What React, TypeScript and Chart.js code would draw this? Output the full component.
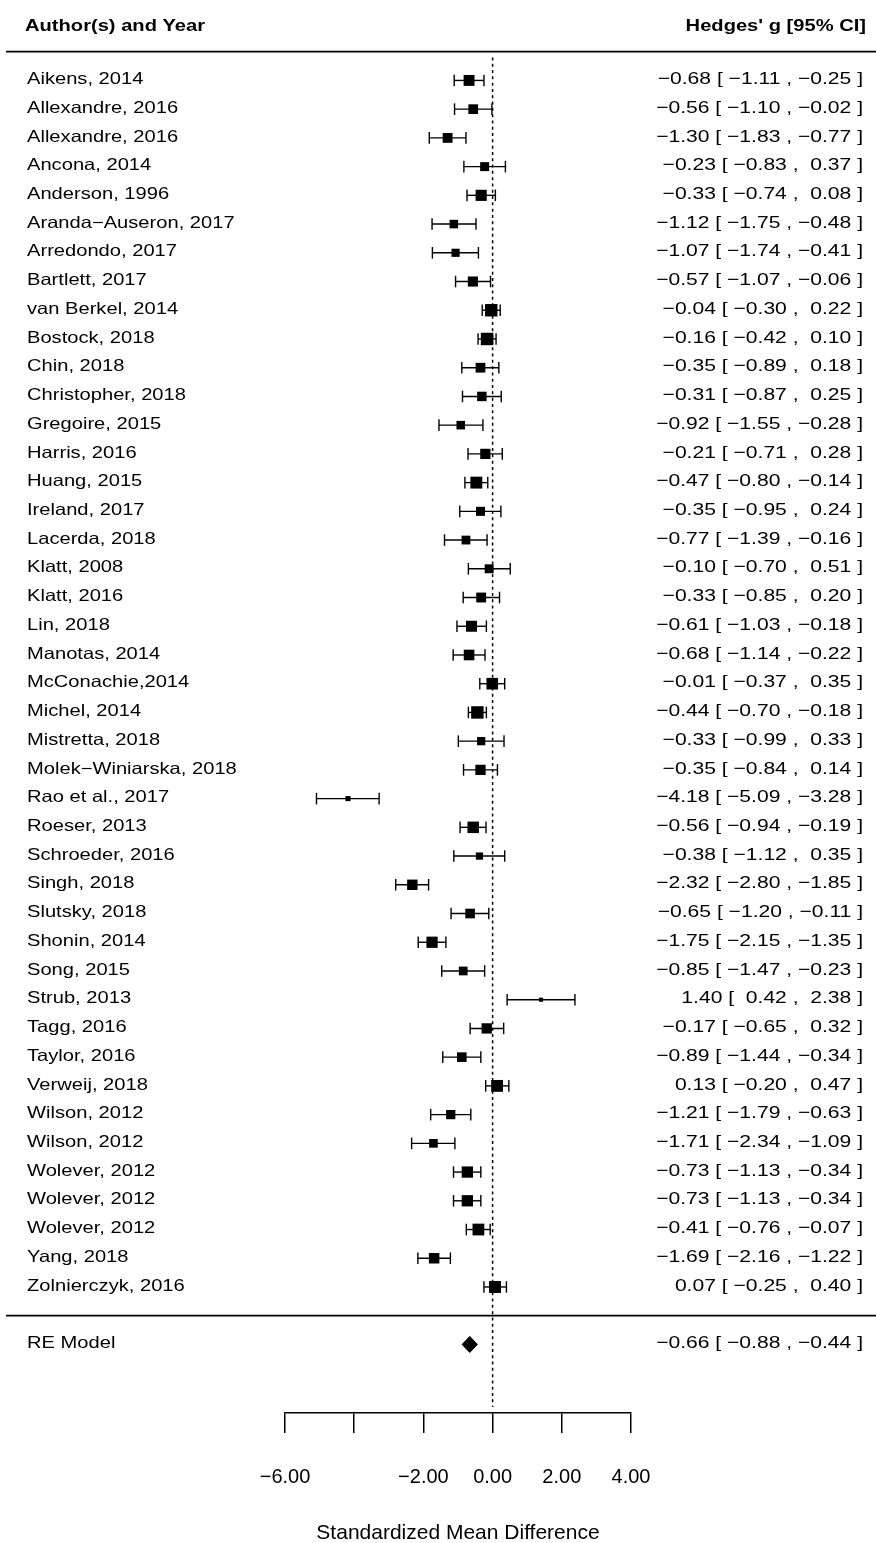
import React, { useEffect, useRef } from 'react';
import { Chart, registerables } from 'chart.js';

Chart.register(...registerables);

const studyLabels = [
  'Aikens, 2014', 'Allexandre, 2016', 'Allexandre, 2016', 'Ancona, 2014', 'Anderson, 1996',
  'Aranda−Auseron, 2017', 'Arredondo, 2017', 'Bartlett, 2017', 'van Berkel, 2014', 'Bostock, 2018',
  'Chin, 2018', 'Christopher, 2018', 'Gregoire, 2015', 'Harris, 2016', 'Huang, 2015',
  'Ireland, 2017', 'Lacerda, 2018', 'Klatt, 2008', 'Klatt, 2016', 'Lin, 2018',
  'Manotas, 2014', 'McConachie,2014', 'Michel, 2014', 'Mistretta, 2018', 'Molek−Winiarska, 2018',
  'Rao et al., 2017', 'Roeser, 2013', 'Schroeder, 2016', 'Singh, 2018', 'Slutsky, 2018',
  'Shonin, 2014', 'Song, 2015', 'Strub, 2013', 'Tagg, 2016', 'Taylor, 2016',
  'Verweij, 2018', 'Wilson, 2012', 'Wilson, 2012', 'Wolever, 2012', 'Wolever, 2012',
  'Wolever, 2012', 'Yang, 2018', 'Zolnierczyk, 2016',
];

const estimates = [
  -0.68, -0.56, -1.30, -0.23, -0.33,
  -1.12, -1.07, -0.57, -0.04, -0.16,
  -0.35, -0.31, -0.92, -0.21, -0.47,
  -0.35, -0.77, -0.10, -0.33, -0.61,
  -0.68, -0.01, -0.44, -0.33, -0.35,
  -4.18, -0.56, -0.38, -2.32, -0.65,
  -1.75, -0.85, 1.40, -0.17, -0.89,
  0.13, -1.21, -1.71, -0.73, -0.73,
  -0.41, -1.69, 0.07,
];

const lowerCI = [
  -1.11, -1.10, -1.83, -0.83, -0.74,
  -1.75, -1.74, -1.07, -0.30, -0.42,
  -0.89, -0.87, -1.55, -0.71, -0.80,
  -0.95, -1.39, -0.70, -0.85, -1.03,
  -1.14, -0.37, -0.70, -0.99, -0.84,
  -5.09, -0.94, -1.12, -2.80, -1.20,
  -2.15, -1.47, 0.42, -0.65, -1.44,
  -0.20, -1.79, -2.34, -1.13, -1.13,
  -0.76, -2.16, -0.25,
];

const upperCI = [
  -0.25, -0.02, -0.77, 0.37, 0.08,
  -0.48, -0.41, -0.06, 0.22, 0.10,
  0.18, 0.25, -0.28, 0.28, -0.14,
  0.24, -0.16, 0.51, 0.20, -0.18,
  -0.22, 0.35, -0.18, 0.33, 0.14,
  -3.28, -0.19, 0.35, -1.85, -0.11,
  -1.35, -0.23, 2.38, 0.32, -0.34,
  0.47, -0.63, -1.09, -0.34, -0.34,
  -0.07, -1.22, 0.40,
];

const summaryLabel = 'RE Model';
const summaryEstimate = -0.66;
const summaryLower = -0.88;
const summaryUpper = -0.44;

const axisTicks = [-6, -4, -2, 0, 2, 4];
const axisTickLabels = ['−6.00', '', '−2.00', '0.00', '2.00', '4.00'];

const headerLeft = 'Author(s) and Year';
const headerRight = "Hedges' g [95% CI]";
const axisTitle = 'Standardized Mean Difference';

// ---- layout / style constants ----
const W = 876;
const H = 1543;
const FAMILY = '"Liberation Sans", Arial, Helvetica, sans-serif';
const ROW_FONT = 16.5;
const ANNOT_FONT = 17;
const TEXT_SX = 1.22;
const ANNOT_SX = 1.24;
const Y_MIN = -3.387;
const Y_MAX = 45.8;
const HEADER_ROW = 44.85;
const REF_TOP = 43.8;
const REF_BOTTOM = -3.18;
const SQUARE_SCALE = 8.3;
const DIAMOND_HALF = 0.28;

const K = studyLabels.length;
const rows = studyLabels.map((_, i) => K - i);
const summaryRow = -1;

// random-effects inverse-variance weights -> square sizes (as the forest plot does)
const Z = 1.959964;
const vi = lowerCI.map((l, i) => ((upperCI[i] - l) / (2 * Z)) ** 2);
const seRE = (summaryUpper - summaryLower) / (2 * Z);
const targetW = 1 / (seRE * seRE);
let lo = 0;
let hi = 10;
for (let it = 0; it < 80; it++) {
  const mid = (lo + hi) / 2;
  const s = vi.reduce((a, v) => a + 1 / (v + mid), 0);
  if (s > targetW) lo = mid;
  else hi = mid;
}
const tau2 = (lo + hi) / 2;
const wts = vi.map((v) => 1 / (v + tau2));
const wMin = Math.min(...wts);
const wMax = Math.max(...wts);
const pointRadii = wts.map((w) => {
  const psize = 0.5 + (w - wMin) / (wMax - wMin);
  const side = SQUARE_SCALE * psize;
  return side / (2 * Math.SQRT1_2);
});

const fmt = (v: number) => (v < 0 ? '−' : ' ') + Math.abs(v).toFixed(2);
const annot = (e: number, l: number, u: number) =>
  `${fmt(e).trimStart()} [ ${fmt(l)} , ${fmt(u)} ]`;

const forestText = {
  id: 'forestText',
  afterDraw(chart: any) {
    const ctx = chart.ctx as CanvasRenderingContext2D;
    const ys = chart.scales.y;
    const draw = (t: string, x: number, y: number, align: CanvasTextAlign, font: string, sx: number) => {
      ctx.save();
      ctx.translate(x, y);
      ctx.scale(sx, 1);
      ctx.font = font;
      ctx.textAlign = align;
      ctx.textBaseline = 'alphabetic';
      ctx.fillStyle = '#000';
      ctx.fillText(t, 0, 0);
      ctx.restore();
    };
    const rowFont = `${ROW_FONT}px ${FAMILY}`;
    const annotFont = `${ANNOT_FONT}px ${FAMILY}`;
    const boldFont = `bold ${ROW_FONT}px ${FAMILY}`;
    const off = 3.7;

    const hy = ys.getPixelForValue(HEADER_ROW) + off;
    draw(headerLeft, 25, hy, 'left', boldFont, TEXT_SX);
    draw(headerRight, 866, hy, 'right', boldFont, TEXT_SX);

    studyLabels.forEach((lab, i) => {
      const py = ys.getPixelForValue(rows[i]) + off;
      draw(lab, 27, py, 'left', rowFont, TEXT_SX);
      draw(annot(estimates[i], lowerCI[i], upperCI[i]), 863, py, 'right', annotFont, ANNOT_SX);
    });
    const sy = ys.getPixelForValue(summaryRow) + off;
    draw(summaryLabel, 27, sy, 'left', rowFont, TEXT_SX);
    draw(annot(summaryEstimate, summaryLower, summaryUpper), 863, sy, 'right', annotFont, ANNOT_SX);

    ctx.save();
    ctx.strokeStyle = '#000';
    ctx.lineWidth = 1.7;
    [K + 1, 0].forEach((r) => {
      const py = ys.getPixelForValue(r);
      ctx.beginPath();
      ctx.moveTo(6, py);
      ctx.lineTo(chart.width, py);
      ctx.stroke();
    });
    ctx.restore();
  },
};

export default function App() {
  const ref = useRef<HTMLCanvasElement | null>(null);

  useEffect(() => {
    if (!ref.current) return;
    const squares = {
      type: 'scatter',
      data: estimates.map((e, i) => ({ x: e, y: rows[i] })),
      pointStyle: 'rect',
      pointRadius: pointRadii,
      backgroundColor: '#000',
      borderWidth: 0,
      clip: false,
    };
    const ciSets = estimates.map((_, i) => ({
      type: 'scatter',
      data: [
        { x: lowerCI[i], y: rows[i] },
        { x: upperCI[i], y: rows[i] },
      ],
      showLine: true,
      borderColor: '#000',
      borderWidth: 1.4,
      pointStyle: 'line',
      rotation: 90,
      pointRadius: 5.8,
      pointBorderColor: '#000',
      pointBorderWidth: 1.4,
      backgroundColor: '#000',
      clip: false,
    }));
    const diamond = {
      type: 'line',
      data: [
        { x: summaryLower, y: summaryRow },
        { x: summaryEstimate, y: summaryRow + DIAMOND_HALF },
        { x: summaryUpper, y: summaryRow },
        { x: summaryEstimate, y: summaryRow - DIAMOND_HALF },
        { x: summaryLower, y: summaryRow },
      ],
      borderColor: '#000',
      backgroundColor: '#000',
      borderWidth: 1,
      pointRadius: 0,
      fill: 'shape',
      tension: 0,
      clip: false,
    };
    const refLine = {
      type: 'scatter',
      data: [
        { x: 0, y: REF_TOP },
        { x: 0, y: REF_BOTTOM },
      ],
      showLine: true,
      borderColor: '#000',
      borderWidth: 1.5,
      borderDash: [3, 3.3],
      pointRadius: 0,
      clip: false,
    };

    const chart = new Chart(ref.current, {
      type: 'scatter',
      data: { datasets: [squares, ...ciSets, diamond, refLine] as any },
      options: {
        animation: false,
        responsive: false,
        maintainAspectRatio: false,
        events: [],
        layout: { autoPadding: false, padding: { left: 285, right: 245, top: 0, bottom: 0 } },
        plugins: {
          legend: { display: false },
          tooltip: { enabled: false },
          title: { display: false },
        },
        scales: {
          x: {
            type: 'linear',
            position: 'bottom',
            min: -6,
            max: 4,
            afterBuildTicks: (s: any) => {
              s.ticks = axisTicks.map((v) => ({ value: v }));
            },
            afterFit: (s: any) => {
              s.height = 130;
            },
            ticks: {
              autoSkip: false,
              maxRotation: 0,
              padding: 32,
              color: '#000',
              font: { size: 20, family: FAMILY },
              callback: (_v: any, i: number) => axisTickLabels[i],
            },
            grid: {
              drawOnChartArea: false,
              drawTicks: true,
              tickLength: 20,
              color: '#000',
              lineWidth: 1.5,
            },
            border: { display: true, color: '#000', width: 1.5 },
            title: {
              display: true,
              text: axisTitle,
              color: '#000',
              font: { size: 21, family: FAMILY, lineHeight: 1.2 },
              padding: { top: 0, bottom: -3 },
            },
          },
          y: { type: 'linear', min: Y_MIN, max: Y_MAX, display: false },
        },
      } as any,
      plugins: [forestText],
    });
    return () => chart.destroy();
  }, []);

  return (
    <div style={{ position: 'absolute', left: 0, top: 0, width: W, height: H, background: '#fff' }}>
      <canvas ref={ref} width={W} height={H} style={{ display: 'block' }} />
    </div>
  );
}
